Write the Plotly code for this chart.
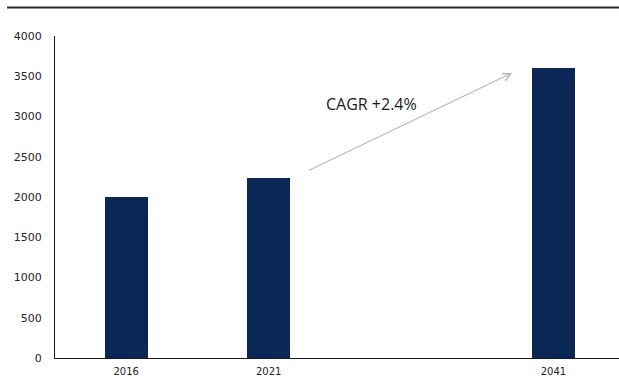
import plotly.graph_objects as go

# Data
years = ["2016", "2021", "2041"]
slots = [0, 1, 3]            # 2041 sits one empty slot to the right
values = [2000, 2240, 3600]
y_ticks = [0, 500, 1000, 1500, 2000, 2500, 3000, 3500, 4000]
cagr_label = "CAGR +2.4%"

bar_color = "#0b2755"

fig = go.Figure()
fig.add_trace(go.Bar(
    x=slots, y=values, width=0.30,
    marker=dict(color=bar_color, line=dict(width=0)),
    hoverinfo="skip",
))

# Growth arrow between 2021 and 2041
fig.add_annotation(
    x=2.71, y=3540, ax=1.27, ay=2320,
    xref="x", yref="y", axref="x", ayref="y",
    showarrow=True, arrowhead=5, arrowsize=1.4, arrowwidth=1.1,
    arrowcolor="#b4b8bd", text="",
)
fig.add_annotation(
    x=1.72, y=3150, xref="x", yref="y",
    text=cagr_label, showarrow=False,
    font=dict(family="Open Sans", size=16, color="#1a1a1a"),
)

# Rule across the top of the page
fig.add_shape(type="line", xref="paper", yref="paper",
              x0=-0.085, x1=1.0, y0=1.0885, y1=1.0885,
              line=dict(color="#2a2a2a", width=2))

fig.update_layout(
    width=619, height=376,
    margin=dict(l=55, r=0, t=36, b=18),
    paper_bgcolor="white", plot_bgcolor="white",
    showlegend=False,
    bargap=0,
    font=dict(family="DejaVu Sans", size=11, color="#222222"),
)
fig.update_xaxes(
    range=[-0.5, 3.46], tickvals=slots, ticktext=years,
    showline=True, linecolor="#1a1a1a", linewidth=1,
    showgrid=False, zeroline=False, ticks="", ticklabelstandoff=4,
    tickfont=dict(size=10),
    automargin=False, fixedrange=True,
)
fig.update_yaxes(
    range=[0, 4000], tickvals=y_ticks,
    showline=True, linecolor="#1a1a1a", linewidth=1,
    showgrid=False, zeroline=False, ticks="", ticklabelstandoff=10,
    automargin=False, fixedrange=True,
)

fig.write_html("out.html")
